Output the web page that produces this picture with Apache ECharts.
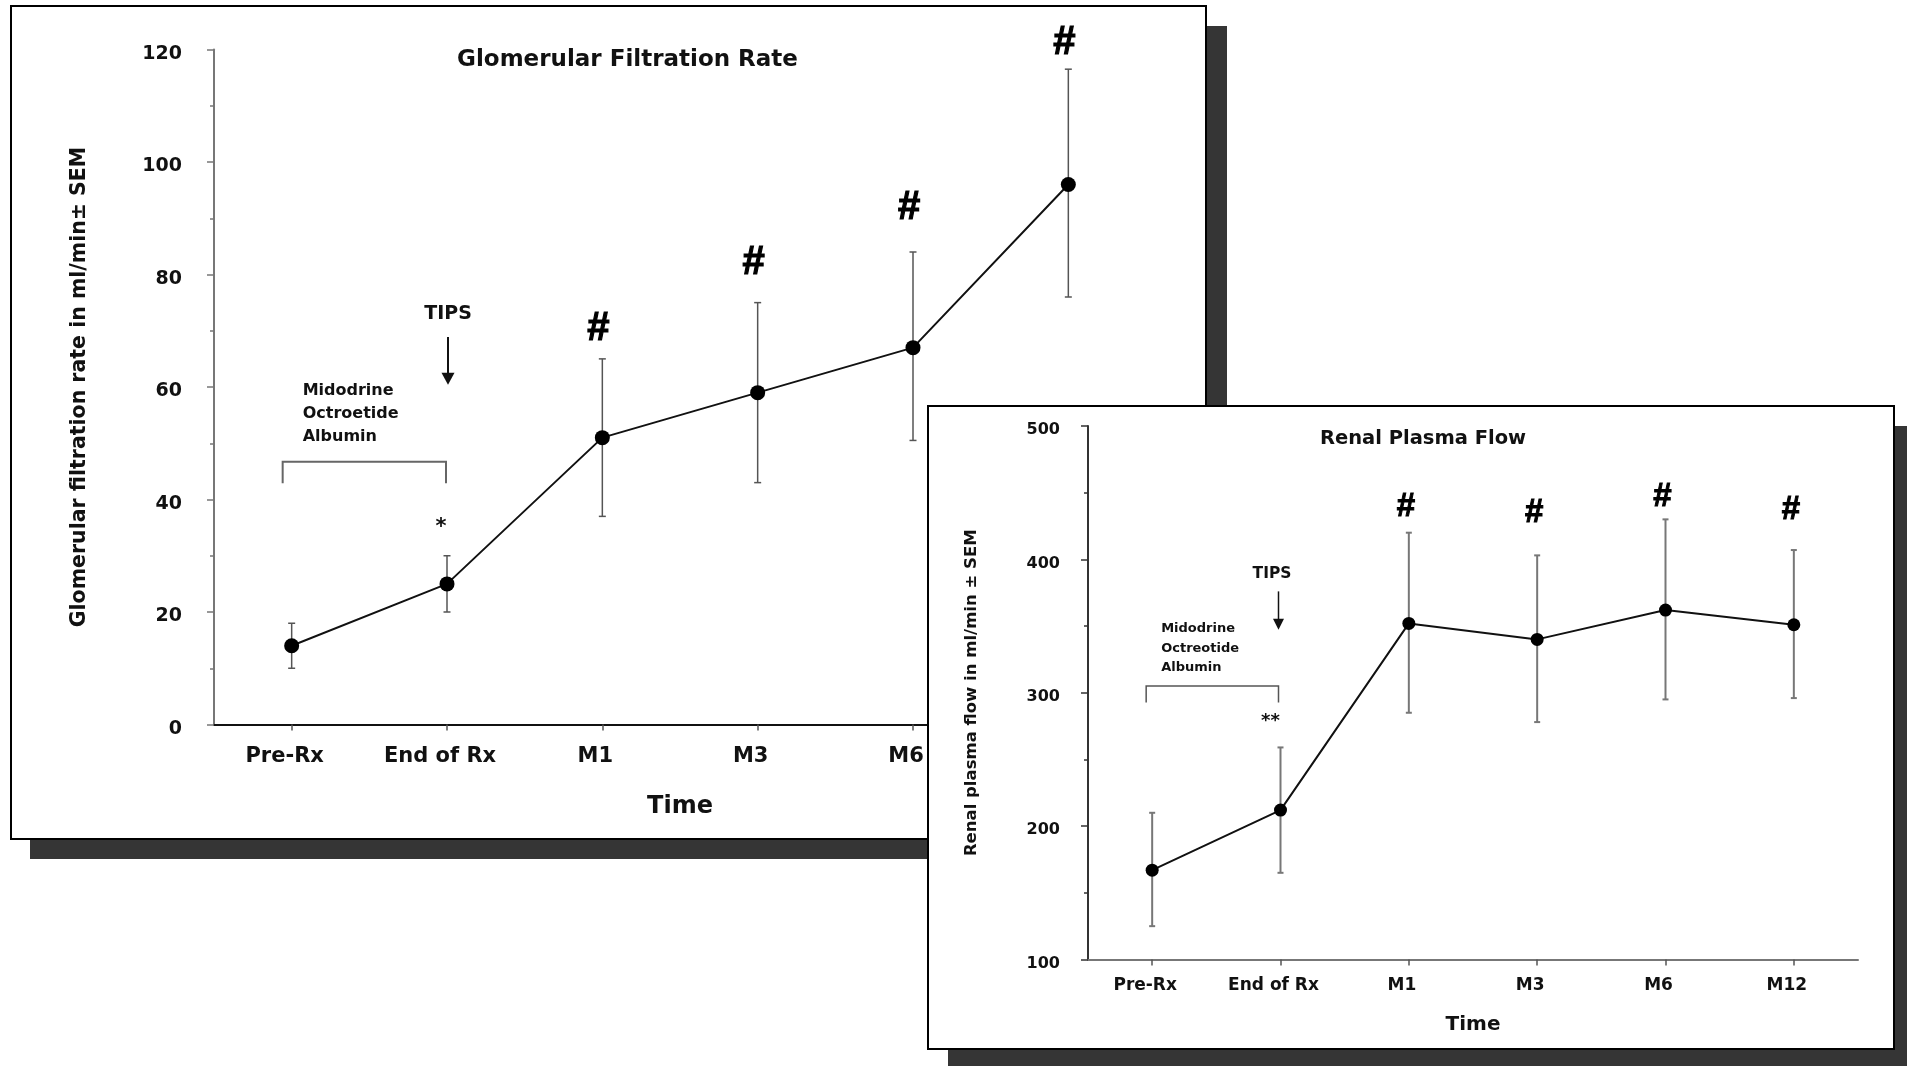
<!DOCTYPE html>
<html>
<head>
<meta charset="utf-8">
<script src="https://cdn.jsdelivr.net/npm/echarts@6/dist/echarts.min.js"></script>
<style>
  html, body { margin: 0; padding: 0; background: #fff; }
  #chart { width: 1907px; height: 1066px; }
</style>
</head>
<body>
<div id="chart"></div>
<script>
// ---- data ----
const categories = ['Pre-Rx', 'End of Rx', 'M1', 'M3', 'M6', 'M12'];

// Glomerular filtration rate (ml/min), mean and SEM range
const gfrMean = [14, 25, 51, 59, 67, 96];
const gfrLow = [10, 20, 37, 43, 50.5, 76];
const gfrHigh = [18, 30, 65, 75, 84, 116.5];
const gfrTicks = [0, 20, 40, 60, 80, 100, 120];

// Renal plasma flow (ml/min), mean and SEM range
const rpfMean = [167, 212, 352, 340, 362, 351];
const rpfLow = [125, 165, 285, 278, 295, 296];
const rpfHigh = [210, 259, 420, 403, 430, 407];
const rpfTicks = [100, 200, 300, 400, 500];

// "#" significance marks: height on each value axis (none before TIPS)
const gfrHash = [null, null, 70.3, 82.1, 91.8, 121.2];
const rpfHash = [null, null, 439, 435, 447.2, 437.1];

// treatment period notes, heights in axis units
const gfrDrugs = ['Midodrine', 'Octroetide', 'Albumin'];
const rpfDrugs = ['Midodrine', 'Octreotide', 'Albumin'];
const gfrNotes = { star: '*', starAt: 35, tipsAt: 72.9, arrowFrom: 68.9, arrowTo: 60.4,
                   bracketAt: 46.7, bracketLeg: 42.9, drugAt: [59.3, 55.2, 51.1] };
const rpfNotes = { star: '**', starAt: 278.2, tipsAt: 389.4, arrowFrom: 376, arrowTo: 347.3,
                   bracketAt: 305.1, bracketLeg: 292.6, drugAt: [348, 333, 318.5] };

// ---- styles ----
const FONT = 'DejaVu Sans';
const HASH_FONT = 'Liberation Sans';

const leftStyle = {
  z: 4, tick: 19, tickDrop: 9, cat: 21, name: 20.5, timeSize: 24,
  markerSize: 15, lineWidth: 2, errColor: '#555', errWidth: 1.5, cap: 3.5,
  hashSize: 40, hashStroke: 1.2, hashDx: -4, starSize: 21, starDx: -6,
  tipsSize: 19, tipsDx: 1, arrowDx: 1, arrowWidth: 2, headW: 13, headH: 12,
  drugSize: 16, drugDx: 11, legDx: [-9, -1], bracketColor: '#666', bracketWidth: 2
};
const rightStyle = {
  z: 13, tick: 16, tickDrop: 8, cat: 17, name: 16.5, timeSize: 20,
  markerSize: 13, lineWidth: 2, errColor: '#777', errWidth: 2, cap: 3,
  hashSize: 33, hashStroke: 1, hashDx: -3, starSize: 18, starDx: -10,
  tipsSize: 15.5, tipsDx: -8.5, arrowDx: -2, arrowWidth: 1.5, headW: 11, headH: 11,
  drugSize: 13, drugDx: 9, legDx: [-6, -2], bracketColor: '#555', bracketWidth: 1.5
};

function txt(size, family, extra) {
  return Object.assign({ fontSize: size, fontFamily: family || FONT, fontWeight: 'bold', color: '#111' }, extra || {});
}

function xAxisFor(idx, st, labelMargin, nameGap, lineColor) {
  return {
    type: 'category', gridIndex: idx, data: categories, boundaryGap: true, z: st.z - 1,
    axisLine: { show: true, lineStyle: { color: lineColor, width: 2 } },
    axisTick: { show: true, alignWithLabel: true, length: 6, lineStyle: { color: '#555', width: 1.5 } },
    axisLabel: Object.assign(txt(st.cat), { margin: labelMargin, padding: [0, 14, 0, 0] }),
    splitLine: { show: false },
    name: 'Time', nameLocation: 'middle', nameGap: nameGap,
    nameTextStyle: txt(st.timeSize)
  };
}

function yAxisFor(idx, st, ticks, labelMargin, nameText, nameGap, lineColor) {
  return {
    type: 'value', gridIndex: idx, z: st.z - 1,
    min: ticks[0], max: ticks[ticks.length - 1], interval: ticks[1] - ticks[0],
    axisLine: { show: true, lineStyle: { color: lineColor, width: 2 } },
    axisTick: { show: true, length: 7, lineStyle: { color: lineColor, width: 1.5 } },
    minorTick: { show: true, splitNumber: 2, length: 4, lineStyle: { color: lineColor, width: 1.5 } },
    splitLine: { show: false },
    minorSplitLine: { show: false },
    axisLabel: Object.assign(txt(st.tick), {
      margin: labelMargin,
      formatter: '{v|{value}}',
      rich: { v: txt(st.tick, FONT, { padding: [st.tickDrop, 0, 0, 0] }) }
    }),
    name: nameText, nameLocation: 'middle', nameRotate: 90, nameGap: nameGap,
    nameTextStyle: txt(st.name)
  };
}

function meanSeries(idx, values, st) {
  return {
    type: 'line', xAxisIndex: idx, yAxisIndex: idx, data: values, z: st.z + 1,
    symbol: 'circle', symbolSize: st.markerSize, silent: true,
    itemStyle: { color: '#000' },
    lineStyle: { color: '#111', width: st.lineWidth }
  };
}

function errorSeries(idx, low, high, st) {
  return {
    type: 'custom', xAxisIndex: idx, yAxisIndex: idx, z: st.z, clip: false, silent: true,
    data: categories.map((c, i) => [i, low[i], high[i]]),
    renderItem(params, api) {
      const i = api.value(0);
      const lo = api.coord([i, api.value(1)]);
      const hi = api.coord([i, api.value(2)]);
      const s = { stroke: st.errColor, lineWidth: st.errWidth };
      return {
        type: 'group',
        children: [
          { type: 'line', shape: { x1: lo[0], y1: lo[1], x2: hi[0], y2: hi[1] }, style: s },
          { type: 'line', shape: { x1: lo[0] - st.cap, y1: lo[1], x2: lo[0] + st.cap, y2: lo[1] }, style: s },
          { type: 'line', shape: { x1: hi[0] - st.cap, y1: hi[1], x2: hi[0] + st.cap, y2: hi[1] }, style: s }
        ]
      };
    }
  };
}

function hashSeries(idx, heights, st) {
  return {
    type: 'custom', xAxisIndex: idx, yAxisIndex: idx, z: st.z + 1, clip: false, silent: true,
    data: heights.map((v, i) => (v == null ? null : [i, v])).filter(Boolean),
    renderItem(params, api) {
      const q = api.coord([api.value(0), api.value(1)]);
      return {
        type: 'text', x: q[0] + st.hashDx, y: q[1],
        style: { text: '#', fontSize: st.hashSize, fontFamily: HASH_FONT, fontWeight: 'bold',
                 fill: '#000', stroke: '#000', lineWidth: st.hashStroke,
                 align: 'center', verticalAlign: 'middle' }
      };
    }
  };
}

function notesSeries(idx, n, names, st) {
  return {
    type: 'custom', xAxisIndex: idx, yAxisIndex: idx, z: st.z + 1, clip: false, silent: true,
    data: [[1, n.tipsAt]],
    renderItem(params, api) {
      const p = (cat, v) => api.coord([cat, v]);
      const kids = [];
      const label = (x, y, text, size, align) => ({
        type: 'text', x: x, y: y,
        style: { text: text, fontSize: size, fontFamily: FONT, fontWeight: 'bold', fill: '#111',
                 align: align || 'center', verticalAlign: 'middle' }
      });
      // bracket over the drug treatment period
      const legL = p(0, n.bracketLeg), topL = p(0, n.bracketAt), topR = p(1, n.bracketAt);
      const x0 = legL[0] + st.legDx[0], x1 = topR[0] + st.legDx[1];
      kids.push({
        type: 'polyline',
        shape: { points: [[x0, legL[1]], [x0, topL[1]], [x1, topL[1]], [x1, legL[1]]] },
        style: { stroke: st.bracketColor, lineWidth: st.bracketWidth, fill: 'none' }
      });
      // drug names
      n.drugAt.forEach((v, k) => {
        const q = p(0, v);
        kids.push(label(q[0] + st.drugDx, q[1], names[k], st.drugSize, 'left'));
      });
      // TIPS label and arrow
      const t = p(1, n.tipsAt);
      kids.push(label(t[0] + st.tipsDx, t[1], 'TIPS', st.tipsSize));
      const a0 = p(1, n.arrowFrom), a1 = p(1, n.arrowTo);
      const ax = a0[0] + st.arrowDx;
      kids.push({ type: 'line', shape: { x1: ax, y1: a0[1], x2: ax, y2: a1[1] - st.headH + 2 },
                  style: { stroke: '#111', lineWidth: st.arrowWidth } });
      kids.push({ type: 'polygon',
                  shape: { points: [[ax - st.headW / 2, a1[1] - st.headH], [ax + st.headW / 2, a1[1] - st.headH], [ax, a1[1]]] },
                  style: { fill: '#111' } });
      // significance vs baseline
      const s = p(1, n.starAt);
      kids.push(label(s[0] + st.starDx, s[1], n.star, st.starSize));
      return { type: 'group', children: kids };
    }
  };
}

const chart = echarts.init(document.getElementById('chart'), null, { renderer: 'canvas' });

chart.setOption({
  animation: false,
  backgroundColor: '#fff',
  grid: [
    { left: 214, top: 49.5, width: 932, height: 675, containLabel: false, outerBoundsMode: 'none' },
    { left: 1088, top: 426, width: 770, height: 533.5, containLabel: false, outerBoundsMode: 'none' }
  ],
  xAxis: [
    xAxisFor(0, leftStyle, 22, 70, '#111'),
    xAxisFor(1, rightStyle, 18, 55, '#777')
  ],
  yAxis: [
    yAxisFor(0, leftStyle, gfrTicks, 32, 'Glomerular filtration rate in ml/min\u00b1 SEM', 124, '#777'),
    yAxisFor(1, rightStyle, rpfTicks, 28, 'Renal plasma flow in ml/min \u00b1 SEM', 108, '#333')
  ],
  graphic: [
    // left panel: drop shadow, frame and heading
    { type: 'rect', z: 1, silent: true, shape: { x: 30, y: 26, width: 1197, height: 833 }, style: { fill: '#353535' } },
    { type: 'rect', z: 2, silent: true, shape: { x: 11, y: 6, width: 1195, height: 833 },
      style: { fill: '#fff', stroke: '#000', lineWidth: 2 } },
    { type: 'text', z: 6, silent: true, x: 627.5, y: 60,
      style: { text: 'Glomerular Filtration Rate', fontSize: 23, fontFamily: FONT, fontWeight: 'bold',
               fill: '#111', align: 'center', verticalAlign: 'middle' } },
    // inset panel: drop shadow, frame and heading
    { type: 'rect', z: 10, silent: true, shape: { x: 948, y: 426, width: 959, height: 640 }, style: { fill: '#353535' } },
    { type: 'rect', z: 11, silent: true, shape: { x: 928, y: 406, width: 966, height: 643 },
      style: { fill: '#fff', stroke: '#000', lineWidth: 2 } },
    { type: 'text', z: 15, silent: true, x: 1423, y: 439,
      style: { text: 'Renal Plasma Flow', fontSize: 19.5, fontFamily: FONT, fontWeight: 'bold',
               fill: '#111', align: 'center', verticalAlign: 'middle' } }
  ],
  series: [
    errorSeries(0, gfrLow, gfrHigh, leftStyle),
    meanSeries(0, gfrMean, leftStyle),
    hashSeries(0, gfrHash, leftStyle),
    notesSeries(0, gfrNotes, gfrDrugs, leftStyle),
    errorSeries(1, rpfLow, rpfHigh, rightStyle),
    meanSeries(1, rpfMean, rightStyle),
    hashSeries(1, rpfHash, rightStyle),
    notesSeries(1, rpfNotes, rpfDrugs, rightStyle)
  ]
});
</script>
</body>
</html>
